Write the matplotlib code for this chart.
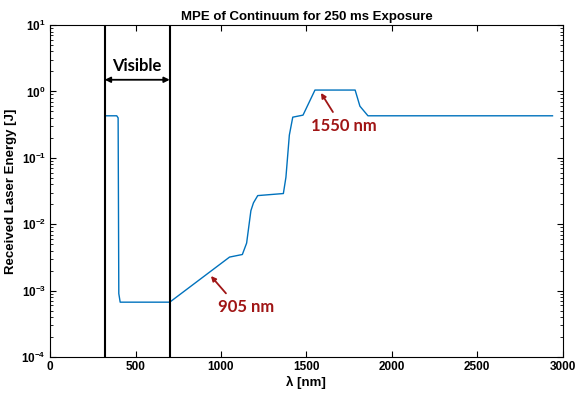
import matplotlib
matplotlib.use("Agg")
import matplotlib.pyplot as plt
from matplotlib.ticker import LogLocator, NullFormatter

# MPE curve (wavelength in nm, energy in J)
wavelength = [320, 390, 398, 402, 410, 700, 1050, 1125, 1150, 1175, 1190, 1215,
              1365, 1380, 1400, 1420, 1480, 1550, 1785, 1813, 1860, 2940]
energy = [0.43, 0.43, 0.40, 9e-4, 6.7e-4, 6.7e-4, 3.2e-3, 3.5e-3, 5.2e-3, 0.016,
          0.021, 0.027, 0.029, 0.051, 0.22, 0.41, 0.44, 1.05, 1.05, 0.60, 0.43, 0.43]

visible_band = [320, 700]
visible_arrow_y = 1.5

blue = "#0072BD"
darkred = "#A01515"
label_font = ["Liberation Sans", "DejaVu Sans"]
note_font = ["Lato", "DejaVu Sans"]

fig = plt.figure(figsize=(5.76, 3.98), dpi=100)
ax = fig.add_axes([0.087, 0.103, 0.890, 0.834])

ax.semilogy(wavelength, energy, color=blue, linewidth=1.0)
for xv in visible_band:
    ax.axvline(xv, color="black", linewidth=1.5)

ax.set_xlim(0, 3000)
ax.set_ylim(1e-4, 10)

# Visible range marker
ax.annotate("", xy=(visible_band[0], visible_arrow_y), xytext=(visible_band[1], visible_arrow_y),
            arrowprops=dict(arrowstyle="<|-|>", color="black", lw=1.3,
                            mutation_scale=8, shrinkA=0, shrinkB=0))
ax.text(sum(visible_band) / 2, 2.4, "Visible", ha="center", va="center",
        fontsize=12, fontweight="bold", family=note_font)

# wavelength callouts
ax.text(1150, 5.6e-4, "905 nm", ha="center", va="center", color=darkred,
        fontsize=12, fontweight="bold", family=note_font)
ax.annotate("", xy=(941, 1.66e-3), xytext=(1029, 9.1e-4),
            arrowprops=dict(arrowstyle="-|>", color=darkred, lw=1.3, mutation_scale=7,
                            shrinkA=0, shrinkB=0))
ax.text(1720, 0.30, "1550 nm", ha="center", va="center", color=darkred,
        fontsize=12, fontweight="bold", family=note_font)
ax.annotate("", xy=(1585, 0.95), xytext=(1655, 0.49),
            arrowprops=dict(arrowstyle="-|>", color=darkred, lw=1.3, mutation_scale=7,
                            shrinkA=0, shrinkB=0))

ax.set_xticks([0, 500, 1000, 1500, 2000, 2500, 3000])
ax.yaxis.set_major_locator(LogLocator(base=10, numticks=10))
ax.yaxis.set_minor_locator(LogLocator(base=10, subs=range(2, 10), numticks=10))
ax.yaxis.set_minor_formatter(NullFormatter())
ax.tick_params(which="both", direction="in", top=True, right=True)
ax.tick_params(which="major", length=4, width=0.8, labelsize=8.5, pad=3)
ax.tick_params(which="minor", length=2, width=0.6)
for lab in ax.get_xticklabels() + ax.get_yticklabels():
    lab.set_fontweight("bold")
    lab.set_family(label_font)

ax.set_title("MPE of Continuum for 250 ms Exposure", fontsize=9.5, fontweight="bold",
             family=label_font, pad=4)
ax.set_ylabel("Received Laser Energy [J]", fontsize=9.5, fontweight="bold", family=label_font)
ax.yaxis.set_label_coords(-0.064, 0.5)
ax.set_xlabel("λ [nm]", fontsize=9.5, fontweight="bold", family=label_font, labelpad=2)

fig.savefig("out.png", dpi=100)
